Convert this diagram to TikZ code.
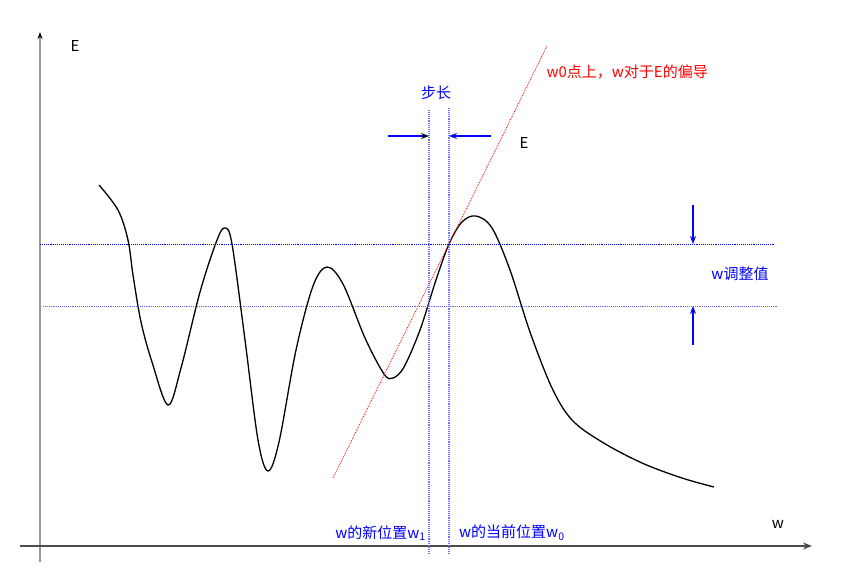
\documentclass[tikz,border=0pt]{standalone}
\usepackage{fontspec}
\setmainfont{Noto Sans CJK SC}
\usetikzlibrary{arrows.meta,positioning}

\begin{document}
\begin{tikzpicture}[
				x = 1pt, y = -1pt, % pixel like units
				> = Stealth,
				font = \fontsize{15}{17}\selectfont
			]
			
			\tikzset{
			axis/.style = {draw = black!70, line width = 1.6pt},
			guide/.style = {draw = blue, line width = 0.9pt, densely dotted},
			tangent/.style = {draw = red, line width = 0.8pt, densely dotted},
			bluetext/.style = {text = blue, inner sep = 1pt},
			bluearrow/.style = {draw = blue, line width = 1.1pt},
			curve/.style = {draw = black, line width = 1.3pt}
			}
			
			\useasboundingbox (0,0) rectangle (841,584);
			
			% axes
			\coordinate (o1) at (40,562);
			\coordinate (ytop) at (40,32);
			\coordinate (o2) at (20,546);
			\coordinate (xend) at (812,546);
			\draw[axis, draw = black!40, -{Stealth[black, length = 7pt, width = 5pt]}] (o1) -- (ytop);
			\draw[axis, -{Stealth[length = 9pt, width = 7pt]}] (o2) -- (xend);
			\node (ylab) at (75,46) {E};
			\node (xlab) at (778,524) {w};
			
			% error curve
			\draw[curve] plot[smooth, tension = 0.55] coordinates {
				(99,185) (118,210) (128,240) (133,275) (141,322) (152,362) (168,405)
				(181,368) (200,292) (217,240) (225,228) (232,244)
				(245,340) (258,440) (268,471) (279,442) (296,350) (313,286) (327,267)
				(343,284) (365,338) (384,374) (393,378) (404,367) (420,330) (436,280)
				(449,244) (462,222) (476,216) (492,228) (510,270) (530,332) (552,388)
				(572,420) (602,442) (642,463) (682,478) (714,487)};
			
			% tangent at w0
			\coordinate (t1) at (333,478);
			\coordinate (t2) at (547,46);
			\draw[tangent] (t1) -- (t2);
			\node[text = red, anchor = west] (slope) at (543,72) {w0点上，w对于E的偏导};
			\node (elab) at (524,143) {E};
			
			% horizontal guides
			\coordinate (h1a) at (40,244);
			\coordinate (h1b) at (775,244);
			\coordinate (h2a) at (43,306);
			\coordinate (h2b) at (778,306);
			\draw[guide] (h1a) -- (h1b);
			\draw[guide, draw = blue!60] (h2a) -- (h2b);
			
			% vertical guides
			\coordinate (v1a) at (429,110);
			\coordinate (v1b) at (429,553);
			\coordinate (v0a) at (449,108);
			\coordinate (v0b) at (449,553);
			\draw[guide, draw = blue!55, line width = 1.1pt] (v1a) -- (v1b);
			\draw[guide, draw = blue!55, line width = 1.1pt] (v0a) -- (v0b);
			
			% step arrows
			\coordinate (s1) at (388,136);
			\coordinate (s1e) at (429,136);
			\coordinate (s2) at (491,136);
			\coordinate (s2e) at (449,136);
			\draw[bluearrow, -{Stealth[black]}] (s1) -- (s1e);
			\draw[bluearrow, ->] (s2) -- (s2e);
			\node[bluetext] (step) at (436,93) {步长};
			
			% adjustment arrows
			\coordinate (a1) at (693,205);
			\coordinate (a1e) at (693,244);
			\coordinate (a2) at (693,345);
			\coordinate (a2e) at (693,306);
			\draw[bluearrow, ->] (a1) -- (a1e);
			\draw[bluearrow, ->] (a2) -- (a2e);
			\node[bluetext] (adj) at (740,274) {w调整值};
			
			% positions
			\node[bluetext, anchor = east] (new) at (427,533) {w的新位置w\textsubscript{1}};
			\node[bluetext, anchor = west] (cur) at (458,533) {w的当前位置w\textsubscript{0}};
		\end{tikzpicture}
\end{document}
